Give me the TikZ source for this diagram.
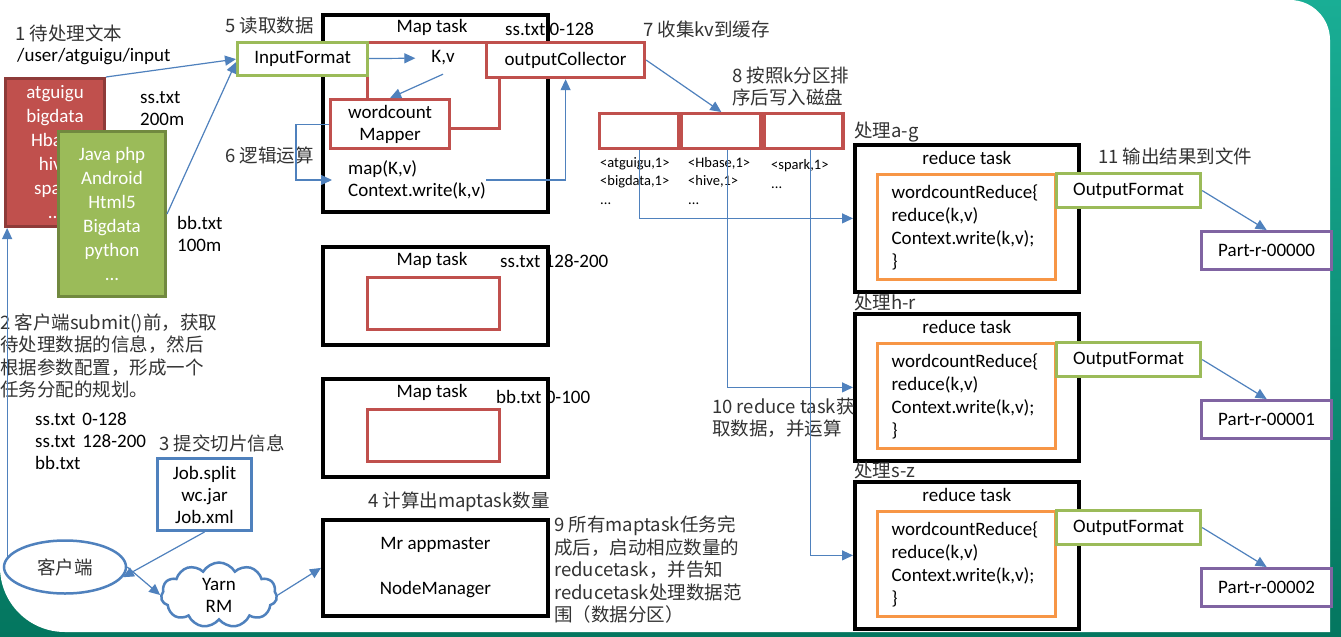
\documentclass[tikz,border=0pt]{standalone}
\usepackage{fontspec}
\setmainfont{Carlito}
\newfontfamily\cjk{Noto Sans CJK SC}
\usetikzlibrary{positioning}
\usetikzlibrary{shapes.geometric}
\usetikzlibrary{shapes.symbols}
\usetikzlibrary{arrows.meta}

\definecolor{slidered}{HTML}{C0504D}
\definecolor{slidedred}{HTML}{8E3B39}
\definecolor{slidegreen}{HTML}{9BBB59}
\definecolor{slidedgreen}{HTML}{71893F}
\definecolor{slideblue}{HTML}{4F81BD}
\definecolor{slideorange}{HTML}{F79646}
\definecolor{slidepurple}{HTML}{8064A2}
\definecolor{slideteal}{HTML}{19AE95}
\definecolor{slidedteal}{HTML}{04765F}

\tikzset{
  box/.style={draw, fill=white, inner sep=0pt, anchor=north west},
  taskbox/.style={box, draw=black, line width=3.8pt},
  redbox/.style={box, draw=slidered, line width=3.2pt},
  greenbox/.style={box, draw=slidegreen, line width=3.2pt},
  flow/.style={draw=slideblue, line width=1.2pt, -{Triangle[length=11pt,width=10pt]}},
  cn/.style={font=\cjk\fontsize{18.5}{22.5}\selectfont, text=black!80, inner sep=0pt},
  lbl/.style={inner sep=0pt, anchor=west},
  small/.style={font=\fontsize{14.5}{18.5}\selectfont},
}

\begin{document}
\begin{tikzpicture}[x=1pt,y=-1pt,font=\fontsize{19}{22}\selectfont]
\useasboundingbox (0,0) rectangle (1341,637);
% slide background
\shade[top color=slideteal, bottom color=slidedteal] (0,0) rectangle (1341,637);
\fill[white] (0,0) -- (1290,0) .. controls (1312,0) and (1330,18) .. (1330,40)
  -- (1330,632) -- (65,632) .. controls (29,632) and (0,603) .. (0,567) -- cycle;

% input files
\node[lbl, cn] at (15,33) {1 待处理文本};
\node[lbl] at (17,57) {/user/atguigu/input};
\node[box, fill=slidered, draw=slidedred, line width=3pt, minimum width=99, minimum height=148,
  text=white, align=center, font=\fontsize{19}{24}\selectfont] (ssfile) at (4,77)
  {atguigu\\bigdata\\Hbase\\hive\\spark\\...};
\node[box, fill=slidegreen, draw=slidedgreen, line width=3pt, minimum width=107, minimum height=165,
  text=white, align=center, font=\fontsize{19}{24}\selectfont] (bbfile) at (57,130)
  {Java php\\Android\\Html5\\Bigdata\\python\\...};
\node[lbl, align=left] at (140,108.5) {ss.txt\\200m};
\node[lbl, align=left] at (177,234) {bb.txt\\100m};

% map task 1
\node[taskbox, minimum width=225, minimum height=197] (map1) at (321,13) {};
\node at (432,27) {Map task};
\node[lbl] at (505,29) {ss.txt 0-128};
\node[redbox, fill=none, minimum width=132, minimum height=86] (kvbox) at (366,41) {};
\node[greenbox, minimum width=130, minimum height=33] (inp) at (236,41) {InputFormat};
\node[minimum width=55, minimum height=32, inner sep=0pt] (kv) at (443,58) {K,v};
\node[redbox, minimum width=119, minimum height=49, align=center] (mapper) at (329,98) {wordcount\\Mapper};
\node[redbox, minimum width=158, minimum height=35] (collector) at (485,41) {outputCollector};
\node[lbl, align=left] (mapcode) at (348,180) {map(K,v)\\Context.write(k,v)};
\node[lbl, cn] at (225,26) {5 读取数据};
\node[lbl, cn] at (225,155) {6 逻辑运算};
\node[lbl, cn] at (643,29) {7 收集kv到缓存};
\node[lbl, cn, align=left] at (732,86.5) {8 按照k分区排\\序后写入磁盘};

% map tasks 2 and 3
\foreach \i/\ry/\sx/\sy/\split in {2/245/500/261/ss.txt 128-200, 3/377/496/397/bb.txt 0-100} {
  \node[taskbox, minimum width=225, minimum height=98] (map\i) at (321,\ry) {};
  \node at (432,\ry+15) {Map task};
  \node[lbl] at (\sx,\sy) {\split};
  \node[redbox, fill=none, minimum width=132, minimum height=52] (slot\i) at (366,\ry+31) {};
}

% spill partitions
\node[redbox, minimum width=79, minimum height=35] (part1) at (598,112) {};
\node[redbox, minimum width=79, minimum height=35, anchor=west] (part2) at (part1.east) {};
\node[redbox, minimum width=79, minimum height=35, anchor=west] (part3) at (part2.east) {};
\node[lbl, small, align=left] at (600,181) {<atguigu,1>\\<bigdata,1>\\...};
\node[lbl, small, align=left] at (688,181) {<Hbase,1>\\<hive,1>\\...};
\node[lbl, small, align=left] at (771,174) {<spark,1>\\...};

% reduce tasks
\foreach \i/\ry/\rng in {0/143/a-g, 1/312/h-r, 2/480/s-z} {
  \node[taskbox, minimum width=224, minimum height=147] (reduce\i) at (853,\ry) {};
  \node[cn, anchor=south west, inner sep=1pt] at (reduce\i.north west) {处理\rng};
  \node[below=5pt of reduce\i.north] {reduce task};
  \node[box, draw=slideorange, line width=3.2pt, minimum width=178, minimum height=105,
    text width=150, inner xsep=14pt, align=left, font=\fontsize{19}{23}\selectfont] (code\i) at (876,\ry+30)
    {wordcountReduce\{\\reduce(k,v)\\Context.write(k,v);\\\}};
  \node[greenbox, minimum width=144, minimum height=34] (out\i) at (1055,\ry+29) {OutputFormat};
  \node[box, draw=slidepurple, line width=3.2pt, minimum width=130, minimum height=38] (result\i) at (1200,\ry+87) {Part-r-0000\i};
  \draw[flow] (out\i.east) -- (result\i.north);
}
\node[lbl, cn] at (1098,156) {11 输出结果到文件};
\node[lbl, cn, align=left] at (712,417.5) {10 reduce task获\\取数据，并运算};

% client side
\node[lbl, cn, align=left] at (0,356) {2 客户端submit()前，获取\\待处理数据的信息，然后\\根据参数配置，形成一个\\任务分配的规划。};
\node[lbl, align=left] at (35,441.5) {ss.txt\hspace{7pt}0-128\\ss.txt\hspace{7pt}128-200\\bb.txt};
\node[lbl, cn] at (159,443) {3 提交切片信息};
\node[box, draw=slideblue, line width=3pt, minimum width=94, minimum height=72, align=center] (job) at (156,457) {Job.split\\wc.jar\\Job.xml};
\node[ellipse, draw=slideblue, line width=2.5pt, minimum width=122, minimum height=53, cn] (client) at (65,567) {客户端};
\node[cloud, draw=slideblue, line width=2.5pt, cloud puffs=11, cloud puff arc=120, minimum width=116, minimum height=65,
  align=center, inner sep=0pt] (yarn) at (219,595) {Yarn\\RM};
\node[taskbox, minimum width=225, minimum height=96, align=center] (master) at (321,518) {Mr appmaster\\[23pt]NodeManager};
\node[lbl, cn] at (368,502) {4 计算出maptask数量};
\node[lbl, cn, align=left] at (554,570) {9 所有maptask任务完\\成后，启动相应数量的\\reducetask，并告知\\reducetask处理数据范\\围（数据分区）};

% connectors
\draw[flow] (ssfile.north east) -- (inp.west);
\draw[flow] (bbfile.east) -- ([yshift=-3pt]inp.west);
\draw[flow] (inp) -- (kv);
\draw[flow] (kv.south) -- (mapper.north);
\draw[flow] (mapper.west) -- ++(-33,0) |- ([xshift=-16pt]mapcode.west);
\draw[flow] (mapcode.east) -| (collector.south);
\draw[flow] (collector.east) -- (part2.north);
\draw[flow] (part1.south) |- (reduce0.west);
\draw[flow] ([xshift=6pt]part2.south) |- (reduce1.west);
\draw[flow] ([xshift=7pt]part3.south) |- (reduce2.west);
\draw[flow] (client.170) -- (client.170 |- ssfile.south);
\draw[flow] (job.south) -- (client.-10);
\draw[flow] (client.east) -- (yarn.west);
\draw[flow] (yarn.east) -- (master.west);
\end{tikzpicture}
\end{document}
